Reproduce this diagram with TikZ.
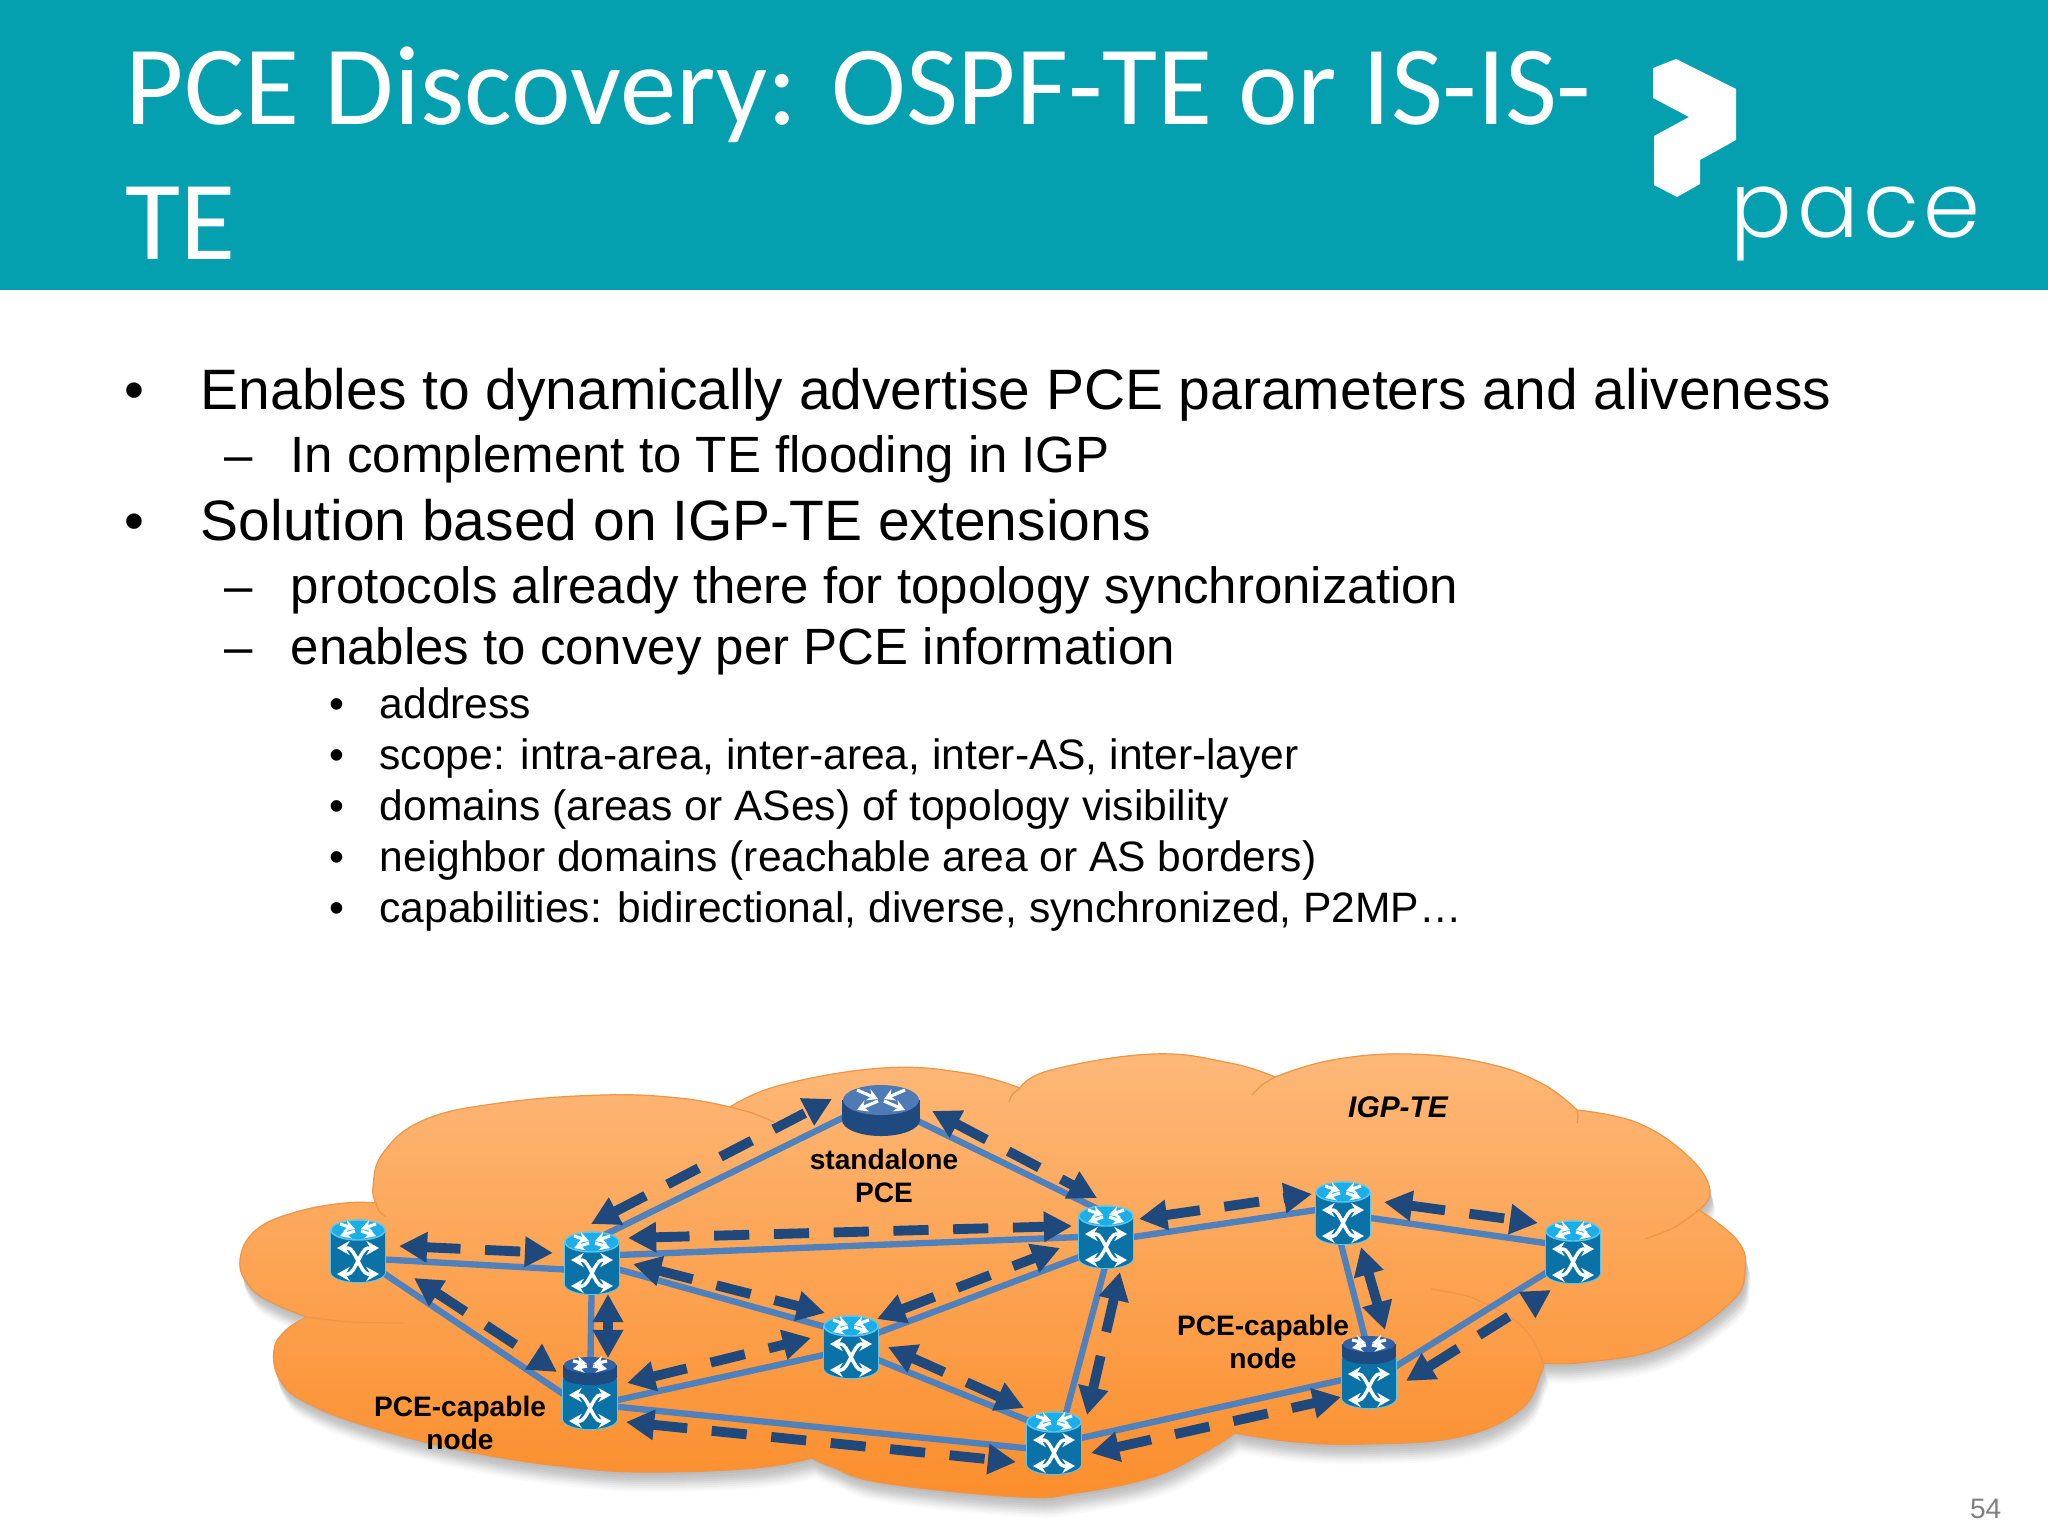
\documentclass[tikz,border=0pt]{standalone}
\usepackage{fontspec}
\setmainfont{Liberation Sans}
\newfontfamily\titlefont{Carlito}
\newfontfamily\logofont[LetterSpace=5]{Poppins Light}
\usepackage{tikz}
\usetikzlibrary{arrows.meta}
\definecolor{headteal}{HTML}{05A0B0}
\definecolor{cloudtop}{HTML}{FDB878}
\definecolor{cloudbot}{HTML}{FB8E2C}
\definecolor{cloudedge}{HTML}{EF9548}
\definecolor{linkblue}{HTML}{4F81BD}
\definecolor{sigblue}{HTML}{1F497D}
\definecolor{oxcbody}{HTML}{0B72A8}
\definecolor{oxctop}{HTML}{1AAEEB}
\definecolor{oxcrim}{HTML}{5CC6EE}
\definecolor{pcedark}{HTML}{1F4A80}
\definecolor{pcetop}{HTML}{2F62A8}
\newcommand{\pxscale}{0.01}
\tikzstyle{vertex}=[minimum size=20pt,inner sep=0pt]
\tikzstyle{link}=[draw=linkblue,line width=1.8pt]
\tikzstyle{signal}=[draw=sigblue,line width=2.8pt,dash pattern=on 10pt off 7pt,{Triangle[length=8pt,width=8.2pt]}-{Triangle[length=8pt,width=8.2pt]}]
\tikzstyle{cloudline}=[draw=cloudedge,line width=0.35pt]
\tikzstyle{xarrow}=[draw=white,line width=1pt,{Stealth[length=3.6pt,width=4pt]}-{Stealth[length=3.6pt,width=4pt]}]
\tikzstyle{tiparrow}=[draw=white,line width=0.9pt,-{Stealth[length=3pt,width=3.4pt]}]
\tikzstyle{lvlone}=[anchor=base west,inner sep=0pt,font=\fontsize{16.2}{18}\selectfont]
\tikzstyle{lvltwo}=[anchor=base west,inner sep=0pt,font=\fontsize{14.5}{16}\selectfont]
\tikzstyle{lvlthree}=[anchor=base west,inner sep=0pt,font=\fontsize{12.1}{14}\selectfont]
\tikzstyle{netlabel}=[align=center,inner sep=0pt,font=\bfseries\fontsize{8}{9.5}\selectfont]
\newcommand{\cloudpath}{plot[smooth,tension=.7] coordinates {(307,1317) (275,1304) (250,1287) (240,1260) (256,1230) (296,1212) (345,1203) (376,1203)}
 -- plot[smooth,tension=.7] coordinates {(376,1203) (373,1187) (383,1153) (424,1120) (500,1103) (603,1095) (679,1098) (730,1107)}
 -- plot[smooth,tension=.7] coordinates {(730,1107) (781,1085) (883,1068) (965,1073) (1020,1088)}
 -- plot[smooth,tension=.7] coordinates {(1020,1088) (1051,1070) (1153,1054) (1230,1063) (1275,1077)}
 -- plot[smooth,tension=.7] coordinates {(1275,1077) (1332,1060) (1408,1054) (1485,1063) (1541,1083) (1577,1110)}
 -- plot[smooth,tension=.7] coordinates {(1577,1110) (1638,1123) (1689,1157) (1710,1190) (1699,1210)}
 -- plot[smooth,tension=.7] coordinates {(1699,1210) (1737,1240) (1745,1270) (1730,1303) (1663,1347) (1587,1362) (1543,1363)}
 -- plot[smooth,tension=.7] coordinates {(1543,1363) (1541,1373) (1520,1410) (1459,1437) (1367,1444) (1296,1442) (1235,1433)}
 -- plot[smooth,tension=.7] coordinates {(1235,1433) (1205,1452) (1153,1477) (1077,1493) (1020,1497) (883,1483) (832,1467) (812,1458)}
 -- plot[smooth,tension=.7] coordinates {(812,1458) (756,1468) (654,1472) (577,1468) (475,1453) (373,1428) (307,1403) (280,1380) (274,1350) (286,1330) (307,1317)}
 -- cycle}
% crossing arrows of the switch, around (0,0)
\newcommand{\oxccross}{
 \draw[xarrow] (-21,-13) -- (-10,-13) .. controls (-3,-13) and (3,13) .. (10,13) -- (21,13);
 \draw[xarrow] (-21,13) -- (-10,13) .. controls (-3,13) and (3,-13) .. (10,-13) -- (21,-13);
}
\newcommand{\toparrows}[2]{
 \draw[tiparrow] (-#1,-#2) -- (-3,-1);
 \draw[tiparrow] (3,1) -- (#1,#2);
 \draw[tiparrow] (#1,-#2) -- (3,-1);
 \draw[tiparrow] (-3,1) -- (-#1,#2);
}
\newcommand{\oxcicon}[1]{
 \begin{scope}[shift={(#1.center)}]
 \fill[oxcrim] (0,21) ellipse [x radius=28,y radius=11];
 \fill[oxcrim] (-28,-21) rectangle (28,21);
 \fill[oxcbody] (0,21) ellipse [x radius=27,y radius=10];
 \fill[oxcbody] (-27,-21) rectangle (27,21);
 \fill[oxctop,draw=oxcrim,line width=0.4pt] (0,-21) ellipse [x radius=27,y radius=10];
 \begin{scope}[shift={(0,-21)}]
 \toparrows{18}{6}
 \end{scope}
 \begin{scope}[shift={(0,10)}]
 \oxccross
 \end{scope}
 \end{scope}
}
\newcommand{\pceicon}[1]{
 \begin{scope}[shift={(#1.center)}]
 \fill[oxcrim] (0,25) ellipse [x radius=28,y radius=11];
 \fill[oxcrim] (-28,-15) rectangle (28,25);
 \fill[oxcbody] (0,25) ellipse [x radius=27,y radius=10];
 \fill[oxcbody] (-27,-15) rectangle (27,25);
 \fill[pcedark] (0,-17) ellipse [x radius=27,y radius=8];
 \fill[pcedark] (-27,-29) rectangle (27,-17);
 \fill[pcetop] (0,-29) ellipse [x radius=26,y radius=8];
 \begin{scope}[shift={(0,-29)}]
 \toparrows{17}{4}
 \end{scope}
 \begin{scope}[shift={(0,14)}]
 \oxccross
 \end{scope}
 \end{scope}
}
\newcommand{\routericon}[1]{
 \begin{scope}[shift={(#1.center)}]
 \fill[pcedark] (0,10) ellipse [x radius=39,y radius=16];
 \fill[pcedark] (-39,-10) rectangle (39,10);
 \fill[pcetop!85!white] (0,-10) ellipse [x radius=38,y radius=15];
 \begin{scope}[shift={(0,-10)}]
 \toparrows{24}{10}
 \end{scope}
 \end{scope}
}

\begin{document}
\begin{tikzpicture}[x=\pxscale cm,y=-\pxscale cm]
	\useasboundingbox (0,0) rectangle (2048,1536);
	\fill[white] (0,0) rectangle (2048,1536);
	\fill[headteal] (0,0) rectangle (2048,290);
	\node[anchor=base west,inner sep=0pt,text=white,font=\titlefont\fontsize{32.1}{36}\selectfont] (title1) at (125,124) {PCE Discovery: OSPF-TE or IS-IS-};
	\node[anchor=base west,inner sep=0pt,text=white,font=\titlefont\fontsize{32.1}{36}\selectfont] (title2) at (125,259) {TE};
	% logo
	\fill[white] (1653,68) -- (1676,59) -- (1736,89) -- (1736,140) -- (1700,160) -- (1700,184) -- (1677,197) -- (1654,185) -- (1654,136) -- (1689,117) -- (1653,98) -- cycle;
	\node[anchor=base west,inner sep=0pt,text=white,font=\logofont\fontsize{26}{30}\selectfont] (logotext) at (1730,237) {pace};
	% text
	\node[lvlone] (bul1) at (124,409) {•};
	\node[lvlone] (txt1) at (200,409) {Enables to dynamically advertise PCE parameters and aliveness};
	\node[lvltwo] (bul2) at (224,472) {–};
	\node[lvltwo] (txt2) at (290,472) {In complement to TE flooding in IGP};
	\node[lvlone] (bul3) at (124,540) {•};
	\node[lvlone] (txt3) at (200,540) {Solution based on IGP-TE extensions};
	\node[lvltwo] (bul4) at (224,603) {–};
	\node[lvltwo] (txt4) at (290,603) {protocols already there for topology synchronization};
	\node[lvltwo] (bul5) at (224,664) {–};
	\node[lvltwo] (txt5) at (290,664) {enables to convey per PCE information};
	\node[lvlthree] (bul6) at (329,718) {•};
	\node[lvlthree] (txt6) at (379,718) {address};
	\node[lvlthree] (bul7) at (329,769) {•};
	\node[lvlthree] (txt7) at (379,769) {scope: intra-area, inter-area, inter-AS, inter-layer};
	\node[lvlthree] (bul8) at (329,820) {•};
	\node[lvlthree] (txt8) at (379,820) {domains (areas or ASes) of topology visibility};
	\node[lvlthree] (bul9) at (329,871) {•};
	\node[lvlthree] (txt9) at (379,871) {neighbor domains (reachable area or AS borders)};
	\node[lvlthree] (bul10) at (329,922) {•};
	\node[lvlthree] (txt10) at (379,922) {capabilities: bidirectional, diverse, synchronized, P2MP…};
	% cloud
	\fill[black,opacity=.035,shift={(1,3)}] \cloudpath;
	\fill[black,opacity=.035,shift={(2,6)}] \cloudpath;
	\fill[black,opacity=.035,shift={(2,8)}] \cloudpath;
	\fill[black,opacity=.035,shift={(3,10)}] \cloudpath;
	\fill[black,opacity=.035,shift={(3,12)}] \cloudpath;
	\fill[black,opacity=.03,shift={(4,14)}] \cloudpath;
	\fill[black,opacity=.03,shift={(4,16)}] \cloudpath;
	\fill[black,opacity=.025,shift={(5,18)}] \cloudpath;
	\fill[black,opacity=.02,shift={(5,20)}] \cloudpath;
	\shade[top color=cloudtop,bottom color=cloudbot] \cloudpath;
	\draw[cloudline] \cloudpath;
	\draw[cloudline] plot[smooth] coordinates {(730,1107) (752,1113) (774,1122)};
	\draw[cloudline] plot[smooth] coordinates {(376,1203) (379,1211) (386,1217)};
	\draw[cloudline] plot[smooth] coordinates {(1020,1088) (1012,1095) (1009,1102)};
	\draw[cloudline] plot[smooth] coordinates {(1275,1077) (1262,1085) (1252,1095)};
	\draw[cloudline] plot[smooth] coordinates {(1577,1110) (1578,1117) (1577,1123)};
	\draw[cloudline] plot[smooth] coordinates {(1699,1210) (1675,1227) (1645,1239)};
	\draw[cloudline] plot[smooth] coordinates {(1543,1363) (1532,1338) (1510,1317) (1470,1297) (1431,1289)};
	\draw[cloudline] plot[smooth] coordinates {(307,1317) (350,1322) (404,1323)};
	% nodes
	\node[vertex] (r1) at (358,1251) {};
	\node[vertex] (r2) at (592,1263) {};
	\node[vertex] (r3) at (590,1394) {};
	\node[vertex] (r4) at (851,1347) {};
	\node[vertex] (sa) at (881,1110) {};
	\node[vertex] (r5) at (1106,1237) {};
	\node[vertex] (r6) at (1343,1213) {};
	\node[vertex] (r7) at (1573,1252) {};
	\node[vertex] (r8) at (1369,1373) {};
	\node[vertex] (r9) at (1054,1443) {};
	% links
	\draw[link] ([shift={(0,7)}]r1.center) -- ([shift={(0,8)}]r2.center);
	\draw[link] ([shift={(0,5)}]r1.center) -- ([shift={(0,18)}]r3.center);
	\draw[link] (r2.center) -- (r3.center);
	\draw[link] ([shift={(0,-22)}]r2.center) -- ([shift={(0,-11)}]sa.center);
	\draw[link] ([shift={(0,-7)}]sa.center) -- ([shift={(0,-24)}]r5.center);
	\draw[link] ([shift={(0,-7)}]r2.center) -- ([shift={(0,-1)}]r5.center);
	\draw[link] ([shift={(0,-1)}]r2.center) -- ([shift={(0,-13)}]r4.center);
	\draw[link] ([shift={(0,-4)}]r4.center) -- ([shift={(0,10)}]r5.center);
	\draw[link] ([shift={(0,12)}]r3.center) -- ([shift={(0,2)}]r4.center);
	\draw[link] ([shift={(0,10)}]r3.center) -- ([shift={(0,8)}]r9.center);
	\draw[link] ([shift={(0,2)}]r4.center) -- ([shift={(0,-12)}]r9.center);
	\draw[link] ([shift={(7,0)}]r5.center) -- ([shift={(4,0)}]r9.center);
	\draw[link] ([shift={(0,1)}]r9.center) -- ([shift={(0,1)}]r8.center);
	\draw[link] ([shift={(0,4)}]r5.center) -- ([shift={(0,-7)}]r6.center);
	\draw[link] ([shift={(0,1)}]r6.center) -- ([shift={(0,-5)}]r7.center);
	\draw[link] ([shift={(-10,0)}]r6.center) -- ([shift={(5,0)}]r8.center);
	\draw[link] ([shift={(0,10)}]r8.center) -- ([shift={(0,4)}]r7.center);
	% icons
	\oxcicon{r1}
	\oxcicon{r2}
	\oxcicon{r4}
	\oxcicon{r5}
	\oxcicon{r6}
	\oxcicon{r7}
	\oxcicon{r9}
	\pceicon{r3}
	\pceicon{r8}
	\routericon{sa}
	% signalling
	\draw[signal] ([shift={(41,-5)}]r1.center) -- ([shift={(-39,-10)}]r2.center);
	\draw[signal] ([shift={(56,27)}]r1.center) -- ([shift={(-33,-22)}]r3.center);
	\draw[signal] ([shift={(16,31)}]r2.center) -- ([shift={(18,-36)}]r3.center);
	\draw[signal] ([shift={(-1,-39)}]r2.center) -- ([shift={(-49,-11)}]sa.center);
	\draw[signal] ([shift={(51,1)}]sa.center) -- ([shift={(-9,-39)}]r5.center);
	\draw[signal] ([shift={(36,-25)}]r2.center) -- ([shift={(-34,-11)}]r5.center);
	\draw[signal] ([shift={(41,1)}]r2.center) -- ([shift={(-26,-34)}]r4.center);
	\draw[signal] ([shift={(26,-28)}]r4.center) -- ([shift={(-46,11)}]r5.center);
	\draw[signal] ([shift={(37,-11)}]r3.center) -- ([shift={(-40,-9)}]r4.center);
	\draw[signal] ([shift={(36,28)}]r3.center) -- ([shift={(-38,19)}]r9.center);
	\draw[signal] ([shift={(37,0)}]r4.center) -- ([shift={(-30,-35)}]r9.center);
	\draw[signal] ([shift={(14,35)}]r5.center) -- ([shift={(33,-28)}]r9.center);
	\draw[signal] ([shift={(37,10)}]r9.center) -- ([shift={(-28,24)}]r8.center);
	\draw[signal] ([shift={(33,-18)}]r5.center) -- ([shift={(-31,-19)}]r6.center);
	\draw[signal] ([shift={(41,-11)}]r6.center) -- ([shift={(-35,-29)}]r7.center);
	\draw[signal] ([shift={(18,34)}]r6.center) -- ([shift={(16,-43)}]r8.center);
	\draw[signal] ([shift={(37,8)}]r8.center) -- ([shift={(-22,38)}]r7.center);
	% labels
	\node[netlabel] (salabel) at (884,1176) {standalone\\PCE};
	\node[netlabel] (pcelabelleft) at (460,1423) {PCE-capable\\node};
	\node[netlabel] (pcelabelright) at (1263,1342) {PCE-capable\\node};
	\node[netlabel,font=\bfseries\itshape\fontsize{8.5}{10}\selectfont] (igplabel) at (1398,1107) {IGP-TE};
	\node[anchor=base east,inner sep=0pt,text=black!50,font=\fontsize{8}{10}\selectfont] (pagenum) at (2002,1518) {54};
\end{tikzpicture}
\end{document}
